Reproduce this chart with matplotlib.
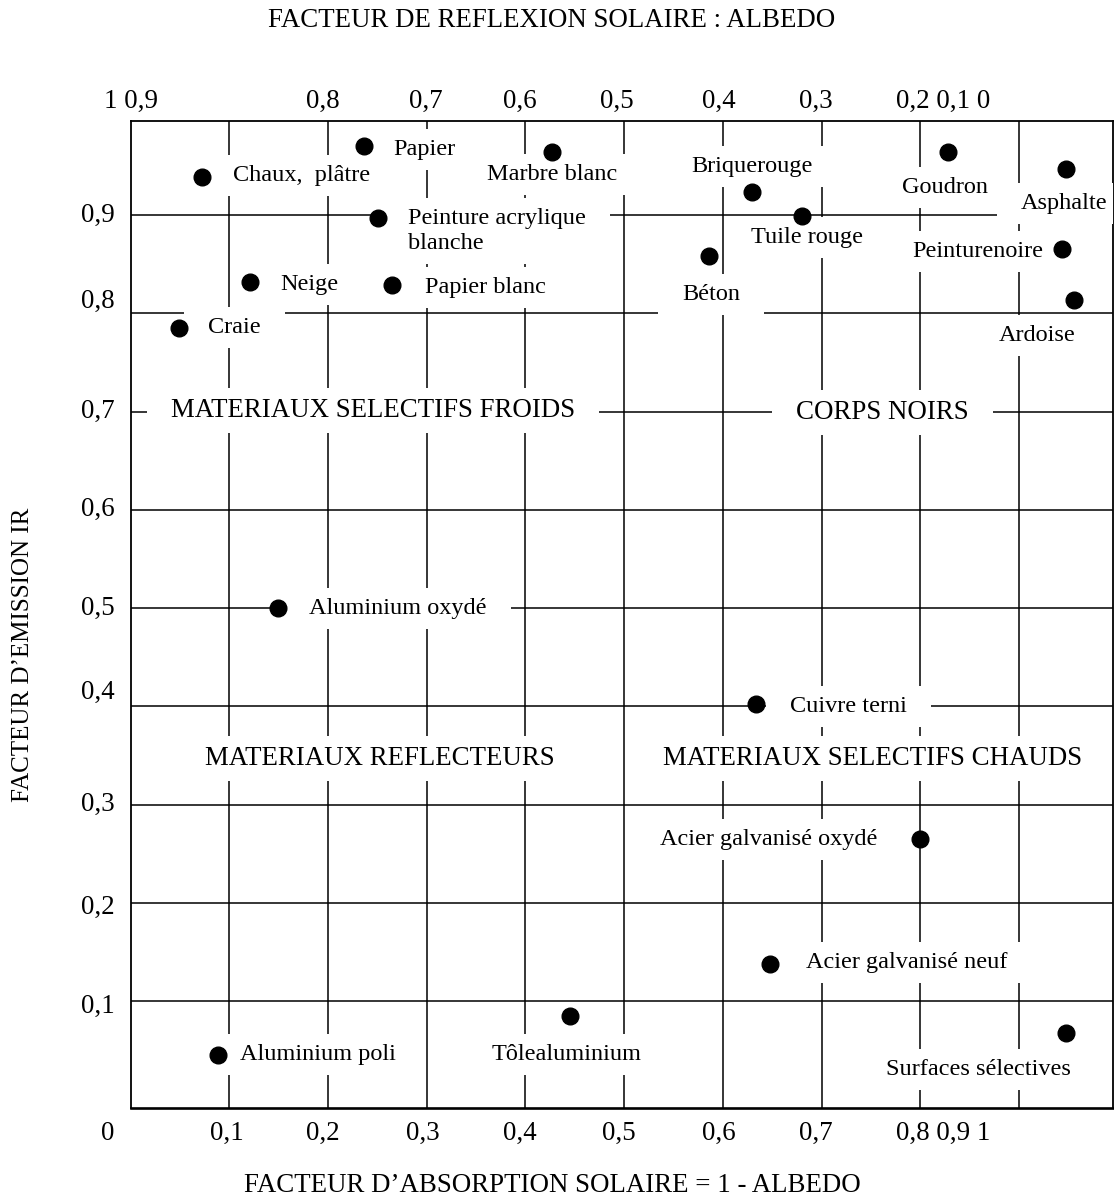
import matplotlib.pyplot as plt
from matplotlib.patches import Rectangle

plt.rcParams['font.family'] = ['Liberation Serif', 'DejaVu Serif']
FS = 17.5      # names of the materials
FS_BIG = 19.4  # zones, ticks, axis titles

# materials: solar absorption (1 - albedo) vs IR emission
materials = ["Chaux,  plâtre", "Papier", "Marbre blanc", "Peinture acrylique\nblanche",
             "Neige", "Papier blanc", "Craie", "Briquerouge", "Tuile rouge", "Béton",
             "Goudron", "Asphalte", "Peinturenoire", "Ardoise", "Aluminium oxydé",
             "Cuivre terni", "Acier galvanisé oxydé", "Acier galvanisé neuf",
             "Surfaces sélectives", "Tôlealuminium", "Aluminium poli"]
absorption = [0.072, 0.237, 0.427, 0.251, 0.121, 0.265, 0.049, 0.630, 0.680, 0.586,
              0.828, 0.948, 0.944, 0.956, 0.149, 0.634, 0.800, 0.648, 0.948, 0.445, 0.089]
emission = [0.939, 0.970, 0.964, 0.897, 0.832, 0.829, 0.785, 0.923, 0.899, 0.858,
            0.964, 0.947, 0.865, 0.813, 0.500, 0.402, 0.265, 0.138, 0.068, 0.085, 0.045]
# where each name is written (centre of the text)
label_x = [0.173, 0.298, 0.427, 0.371, 0.181, 0.360, 0.105, 0.630, 0.685, 0.588,
           0.825, 0.946, 0.858, 0.918, 0.271, 0.727, 0.646, 0.786, 0.859, 0.442, 0.190]
label_y = [0.940, 0.966, 0.941, 0.884, 0.829, 0.826, 0.785, 0.949, 0.877, 0.819,
           0.928, 0.912, 0.863, 0.777, 0.500, 0.400, 0.265, 0.140, 0.031, 0.046, 0.046]

zones = ["MATERIAUX SELECTIFS FROIDS", "CORPS NOIRS",
         "MATERIAUX REFLECTEURS", "MATERIAUX SELECTIFS CHAUDS"]
zone_x = [0.246, 0.762, 0.253, 0.752]
zone_y = [0.7015, 0.6985, 0.347, 0.347]

grid_vals = [0.1, 0.2, 0.3, 0.4, 0.5, 0.6, 0.7, 0.8, 0.9]

# odd tick labels, as printed on the original
bottom_ticks = ["0", "0,1", "0,2", "0,3", "0,4", "0,5", "0,6", "0,7", "0,8 0,9 1"]
bottom_x = [-0.023, 0.098, 0.195, 0.296, 0.394, 0.495, 0.596, 0.694, 0.823]
top_ticks = ["1 0,9", "0,8", "0,7", "0,6", "0,5", "0,4", "0,3", "0,2 0,1 0"]
top_x = [0.0, 0.195, 0.299, 0.394, 0.493, 0.596, 0.694, 0.823]
left_ticks = ["0,1", "0,2", "0,3", "0,4", "0,5", "0,6", "0,7", "0,8", "0,9"]
left_y = [0.095, 0.196, 0.300, 0.414, 0.500, 0.600, 0.700, 0.812, 0.899]

fig = plt.figure(figsize=(11.14, 12.01), dpi=100)
ax = fig.add_axes([0.1172, 0.0774, 0.8819, 0.8221])
ax.set_xlim(0, 0.9953)
ax.set_ylim(-0.0085, 0.9958)
ax.set_xticks([])
ax.set_yticks([])
for s in ax.spines.values():
    s.set_linewidth(1.3)
ax.spines['bottom'].set_linewidth(1.9)

for v in grid_vals:
    ax.axvline(v, color='black', lw=1.1, zorder=1)
    ax.axhline(v, color='black', lw=1.1, zorder=1)

texts = []
for name, x, y in zip(materials, label_x, label_y):
    t = ax.text(x, y, name, fontsize=FS, ha='center', va='center',
                multialignment='left', linespacing=1.25, zorder=3)
    texts.append(t)
for name, x, y in zip(zones, zone_x, zone_y):
    texts.append(ax.text(x, y, name, fontsize=FS_BIG, ha='center', va='center', zorder=3))

ax.plot(absorption, emission, 'o', color='black', ms=12, zorder=5, clip_on=False)

for lab, x in zip(bottom_ticks, bottom_x):
    ax.text(x, -0.034, lab, fontsize=FS_BIG, ha='center', va='center', clip_on=False)
for lab, x in zip(top_ticks, top_x):
    ax.text(x, 1.015, lab, fontsize=FS_BIG, ha='center', va='center', clip_on=False)
for lab, y in zip(left_ticks, left_y):
    ax.text(-0.016, y, lab, fontsize=FS_BIG, ha='right', va='center', clip_on=False)

fig.text(0.4955, 0.9833, "FACTEUR DE REFLEXION SOLAIRE : ALBEDO", fontsize=FS_BIG,
         ha='center', va='center')
fig.text(0.4955, 0.0133, "FACTEUR D\u2019ABSORPTION SOLAIRE = 1 - ALBEDO", fontsize=FS_BIG,
         ha='center', va='center')
fig.text(0.0205, 0.455, "FACTEUR D\u2019EMISSION IR", fontsize=18, rotation=90,
         ha='center', va='center')

# white boxes behind labels cut the grid lines
fig.canvas.draw()
r = fig.canvas.get_renderer()
inv = ax.transData.inverted()
padx, pady = 24, 10
for t in texts:
    bb = t.get_window_extent(r)
    x0, y0 = inv.transform((bb.x0 - padx, bb.y0 - pady))
    x1, y1 = inv.transform((bb.x1 + padx, bb.y1 + pady))
    ax.add_patch(Rectangle((x0, y0), x1 - x0, y1 - y0, facecolor='white',
                           edgecolor='none', zorder=2.6))

fig.savefig("out.png", dpi=100)
